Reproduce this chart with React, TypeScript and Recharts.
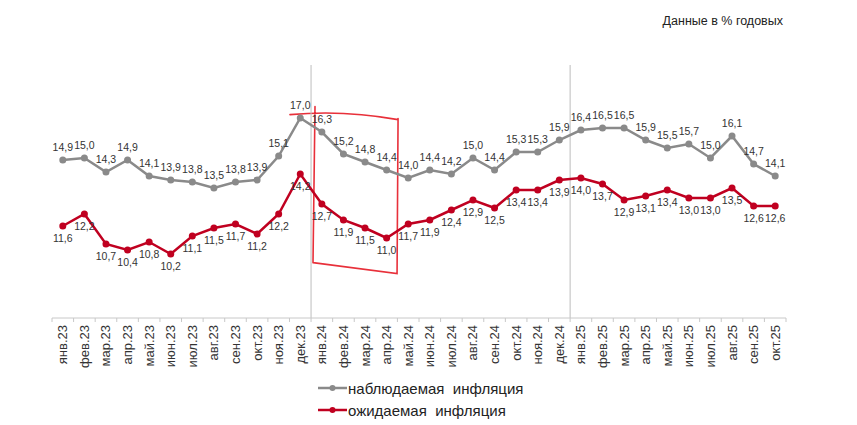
import React from 'react';
import { LineChart, Line, XAxis, YAxis, LabelList, ReferenceLine, ReferenceArea, Legend } from 'recharts';

const months = [
  'янв.23', 'фев.23', 'мар.23', 'апр.23', 'май.23', 'июн.23', 'июл.23', 'авг.23', 'сен.23', 'окт.23', 'ноя.23', 'дек.23',
  'янв.24', 'фев.24', 'мар.24', 'апр.24', 'май.24', 'июн.24', 'июл.24', 'авг.24', 'сен.24', 'окт.24', 'ноя.24', 'дек.24',
  'янв.25', 'фев.25', 'мар.25', 'апр.25', 'май.25', 'июн.25', 'июл.25', 'авг.25', 'сен.25', 'окт.25',
];

const observed = [
  14.9, 15.0, 14.3, 14.9, 14.1, 13.9, 13.8, 13.5, 13.8, 13.9, 15.1, 17.0,
  16.3, 15.2, 14.8, 14.4, 14.0, 14.4, 14.2, 15.0, 14.4, 15.3, 15.3, 15.9,
  16.4, 16.5, 16.5, 15.9, 15.5, 15.7, 15.0, 16.1, 14.7, 14.1,
];

const expected = [
  11.6, 12.2, 10.7, 10.4, 10.8, 10.2, 11.1, 11.5, 11.7, 11.2, 12.2, 14.2,
  12.7, 11.9, 11.5, 11.0, 11.7, 11.9, 12.4, 12.9, 12.5, 13.4, 13.4, 13.9,
  14.0, 13.7, 12.9, 13.1, 13.4, 13.0, 13.0, 13.5, 12.6, 12.6,
];

const observedName = 'наблюдаемая  инфляция';
const expectedName = 'ожидаемая  инфляция';
const title = 'Данные в % годовых';

const yearBreaks = [12, 24];

const GRAY = '#8a8a8a';
const RED = '#c00020';
const FONT = '"Liberation Sans", Arial, sans-serif';

const data = months.map((m, i) => ({ month: m, pos: i + 0.5, observed: observed[i], expected: expected[i] }));

const axisTicks: number[] = [];
for (let k = 0; k <= months.length * 2; k++) axisTicks.push(k / 2);

const fmt = (v: any) => (typeof v === 'number' ? v.toFixed(1).replace('.', ',') : v);

const AxisTick = (props: any) => {
  const { x, y, payload } = props;
  const v = payload.value;
  if (Number.isInteger(v)) {
    return <line x1={x} x2={x} y1={y} y2={y + 4} stroke="#c8c8c8" strokeWidth={1} />;
  }
  const label = months[Math.floor(v)];
  const ty = y + 7;
  return (
    <text
      x={x}
      y={ty}
      transform={`rotate(-90 ${x} ${ty})`}
      textAnchor="end"
      dominantBaseline="central"
      fontSize={13}
      fontFamily={FONT}
      fill="#333"
    >
      {label}
    </text>
  );
};

const HandBox = (props: any) => {
  const { x, y, width: w, height: h } = props;
  if (x == null) return null;
  const d = [
    `M${x - 23},${y + 2} Q${x + 30},${y - 3} ${x + w},${y + 7}`,
    `M${x + w},${y + 6} L${x + w - 1},${y + h}`,
    `L${x},${y + h - 11}`,
    `M${x},${y + h - 11} L${x + 2},${y - 6}`,
  ].join(' ');
  return <path d={d} fill="none" stroke="#e8303a" strokeWidth={1.6} strokeLinecap="round" />;
};

const legendItems = [
  { name: observedName, color: GRAY },
  { name: expectedName, color: RED },
];

const LegendContent = () => (
  <div style={{ fontFamily: FONT, fontSize: 15, color: '#222' }}>
    {legendItems.map((it) => (
      <div key={it.name} style={{ display: 'flex', alignItems: 'center', height: 22, whiteSpace: 'pre' }}>
        <svg width={29} height={10} style={{ display: 'block' }}>
          <line x1={0} y1={5} x2={29} y2={5} stroke={it.color} strokeWidth={2.5} />
          <circle cx={14.5} cy={5} r={3} fill={it.color} />
        </svg>
        <span style={{ marginLeft: 1 }}>{it.name}</span>
      </div>
    ))}
  </div>
);

export default function App() {
  return (
    <div style={{ position: 'relative', width: 849, height: 417 }}>
      <div
        style={{
          position: 'absolute',
          right: 74,
          top: 6,
          fontFamily: FONT,
          fontSize: 12.5,
          color: '#222',
          whiteSpace: 'nowrap',
        }}
      >
        {title}
      </div>
      <LineChart width={849} height={417} data={data} margin={{ top: 57, right: 71, left: 44, bottom: 47 }}>
        <XAxis
          dataKey="pos"
          type="number"
          domain={[0, months.length]}
          ticks={axisTicks}
          interval={0}
          tickLine={false}
          tickSize={0}
          tickMargin={0}
          axisLine={{ stroke: '#c8c8c8' }}
          tick={<AxisTick />}
          height={60}
          allowDecimals
        />
        <YAxis hide type="number" domain={[7, 19.65]} />
        {yearBreaks.map((b) => (
          <ReferenceLine key={b} x={b} stroke="#bdbdbd" strokeWidth={1} />
        ))}
        <ReferenceArea x1={12.09} x2={16.03} y1={9.22} y2={17.27} shape={<HandBox />} ifOverflow="visible" />
        <Line
          type="linear"
          dataKey="observed"
          name={observedName}
          stroke={GRAY}
          strokeWidth={2.5}
          dot={{ r: 3.5, fill: GRAY, stroke: GRAY, strokeWidth: 0 }}
          activeDot={false}
          isAnimationActive={false}
        >
          <LabelList dataKey="observed" position="top" offset={9} formatter={fmt} fill="#333" fontSize={10.5} fontFamily={FONT} />
        </Line>
        <Line
          type="linear"
          dataKey="expected"
          name={expectedName}
          stroke={RED}
          strokeWidth={2.5}
          dot={{ r: 3.5, fill: RED, stroke: RED, strokeWidth: 0 }}
          activeDot={false}
          isAnimationActive={false}
        >
          <LabelList dataKey="expected" position="bottom" offset={9} formatter={fmt} fill="#333" fontSize={10.5} fontFamily={FONT} />
        </Line>
        <Legend
          layout="vertical"
          align="center"
          verticalAlign="middle"
          content={<LegendContent />}
          wrapperStyle={{ left: 310, top: 369, width: 'auto' }}
        />
      </LineChart>
    </div>
  );
}
